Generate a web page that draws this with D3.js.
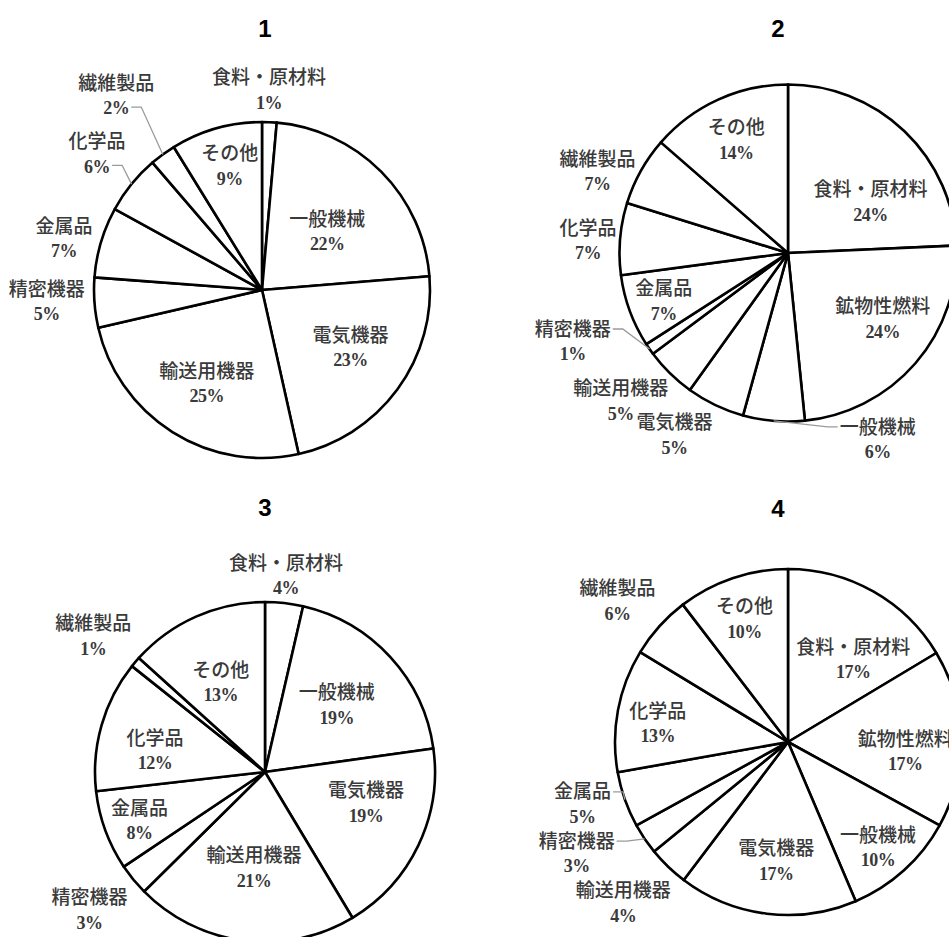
<!DOCTYPE html>
<html>
<head>
<meta charset="utf-8">
<script src="https://cdn.jsdelivr.net/npm/d3@7"></script>
<style>
  body { margin: 0; background: #fff; }
  svg { display: block; }
</style>
</head>
<body>
<svg id="chart" width="949" height="937"></svg>
<script>
// ---- data (shares, printed labels as shown) ----
var titles = ['1', '2', '3', '4'];

var cats1 = ['食料・原材料', '一般機械', '電気機器', '輸送用機器', '精密機器', '金属品', '化学品', '繊維製品', 'その他'];
var vals1 = [1.4, 22.3, 22.8, 24.9, 4.8, 6.8, 5.7, 2.5, 8.8];
var pct1 = ['1%', '22%', '23%', '25%', '5%', '7%', '6%', '2%', '9%'];

var cats2 = ['食料・原材料', '鉱物性燃料', '一般機械', '電気機器', '輸送用機器', '精密機器', '金属品', '化学品', '繊維製品', 'その他'];
var vals2 = [24.3, 24.1, 5.9, 5.6, 4.9, 1.1, 7.0, 6.9, 6.6, 13.6];
var pct2 = ['24%', '24%', '6%', '5%', '5%', '1%', '7%', '7%', '7%', '14%'];

var cats3 = ['食料・原材料', '一般機械', '電気機器', '輸送用機器', '精密機器', '金属品', '化学品', '繊維製品', 'その他'];
var vals3 = [3.6, 19.2, 18.6, 21.2, 3.0, 7.6, 12.5, 1.0, 13.3];
var pct3 = ['4%', '19%', '19%', '21%', '3%', '8%', '12%', '1%', '13%'];

var cats4 = ['食料・原材料', '鉱物性燃料', '一般機械', '電気機器', '輸送用機器', '精密機器', '金属品', '化学品', '繊維製品', 'その他'];
var vals4 = [16.4, 16.6, 10.6, 16.7, 3.8, 2.9, 5.2, 11.5, 5.9, 10.4];
var pct4 = ['17%', '17%', '10%', '17%', '4%', '3%', '5%', '13%', '6%', '10%'];

// ---- layout: pie centre/radius, title position, label placement [radius factor, angle shift deg] ----
var panels = [
    { cats: cats1, vals: vals1, pct: pct1, cx: 262, cy: 290, r: 168, tx: 265, ty: 28,
      place: [[1.195, -0.5], [0.523, 2.8], [0.627, -3.6], [0.644, -1.5], [1.283, 1.4], [1.219, -1.9], [1.275, 0.6], [1.449, -0.6], [0.766, 1.3]],
      leaders: [{ i: 6, line: 1 }, { i: 7, line: 1 }] },
    { cats: cats2, vals: vals2, pct: pct2, cx: 788, cy: 253, r: 168.5, tx: 778, ty: 28,
      place: [[0.577, 14.3], [0.684, -6.2], [1.225, -30.6], [1.27, 6.5], [1.325, 4.1], [1.38, 12.5], [0.79, -0.9], [1.19, -1.1], [1.23, -5.9], [0.74, 0]],
      leaders: [{ i: 2, line: 0 }, { i: 5, line: 0 }] },
    { cats: cats3, vals: vals3, pct: pct3, cx: 265, cy: 772, r: 170, tx: 265, ty: 507,
      place: [[1.165, -0.4], [0.58, -0.8], [0.62, -8.8], [0.565, -0.6], [1.31, 1.2], [0.79, -0.8], [0.66, -4.8], [1.29, -1.9], [0.59, -2.2]],
      leaders: [] },
    { cats: cats4, vals: vals4, pct: pct4, cx: 788, cy: 742, r: 173, tx: 778, ty: 508,
      place: [[0.61, 8.6], [0.68, 5.4], [0.80, 1.5], [0.69, -1.4], [1.33, 1.8], [1.38, 6.3], [1.24, 2.7], [0.76, -2.4], [1.28, -2.3], [0.755, -0.7]],
      leaders: [{ i: 5, line: 0 }, { i: 6, line: 0 }] }
];

var svg = d3.select('#chart');
var nameFont = '"Noto Sans CJK JP", "Noto Sans", sans-serif';
var pctFont = '"Liberation Serif", "DejaVu Serif", serif';
var lineGap = 12;

var pie = d3.pie().sort(null).value(function (d) { return d; });

function polar(a, rad) {
    return [Math.sin(a) * rad, -Math.cos(a) * rad];
}

panels.forEach(function (p, pi) {
    svg.append('text')
        .attr('x', p.tx).attr('y', p.ty)
        .attr('text-anchor', 'middle').attr('dominant-baseline', 'central')
        .attr('font-family', '"Liberation Sans", Arial, sans-serif')
        .attr('font-weight', 'bold').attr('font-size', 24)
        .attr('fill', '#000')
        .text(titles[pi]);

    var g = svg.append('g').attr('transform', 'translate(' + p.cx + ',' + p.cy + ')');
    var arcs = pie(p.vals);
    var arc = d3.arc().innerRadius(0).outerRadius(p.r);

    g.selectAll('path.slice').data(arcs).enter()
        .append('path').attr('class', 'slice')
        .attr('d', arc)
        .attr('fill', '#fff')
        .attr('stroke', '#000')
        .attr('stroke-width', 2.6)
        .attr('stroke-linejoin', 'round');

    // one text per label, name and percent as two tspans
    var labels = g.selectAll('text.lab').data(arcs).enter()
        .append('text').attr('class', 'lab')
        .attr('transform', function (d, i) {
            var mid = (d.startAngle + d.endAngle) / 2 + p.place[i][1] * Math.PI / 180;
            var xy = polar(mid, p.r * p.place[i][0]);
            d.lx = xy[0]; d.ly = xy[1];
            return 'translate(' + xy[0] + ',' + xy[1] + ')';
        })
        .attr('text-anchor', 'middle')
        .attr('fill', '#3a3a3a');

    labels.append('tspan').attr('class', 'nm')
        .attr('x', 0).attr('y', -lineGap).attr('dy', '0.35em')
        .attr('font-family', nameFont).attr('font-size', 19).attr('font-weight', 500)
        .text(function (d, i) { return p.cats[i]; });
    labels.append('tspan').attr('class', 'pc')
        .attr('x', 0).attr('y', lineGap + 1).attr('dy', '0.35em')
        .attr('font-family', pctFont).attr('font-size', 18).attr('font-weight', 'bold')
        .attr('letter-spacing', -0.5)
        .text(function (d, i) { return p.pct[i]; });

    // leader lines for the small outside slices
    p.leaders.forEach(function (ld) {
        var d = arcs[ld.i];
        var node = labels.filter(function (e, j) { return j === ld.i; })
            .select(ld.line === 0 ? 'tspan.nm' : 'tspan.pc').node();
        var w = node.getComputedTextLength();
        var mid = (d.startAngle + d.endAngle) / 2;
        var end = polar(mid, p.r);
        var side = end[0] > d.lx ? 1 : -1;
        var y = d.ly + (ld.line === 0 ? -lineGap : lineGap);
        var x0 = d.lx + side * (w / 2 + 2);
        var x1 = x0 + side * 10;
        g.append('path')
            .attr('d', d3.line()([[x0, y], [x1, y], end]))
            .attr('fill', 'none')
            .attr('stroke', '#9a9a9a')
            .attr('stroke-width', 1.3);
    });
});
</script>
</body>
</html>
